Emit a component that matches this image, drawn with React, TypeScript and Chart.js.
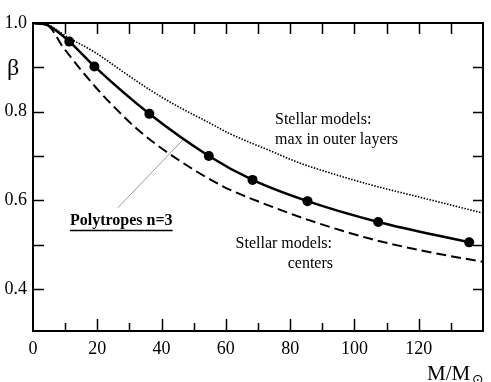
import React, { useEffect, useRef } from "react";
import { Chart, registerables } from "chart.js";

Chart.register(...registerables);

// Polytropes n=3 (solid line with dots)
const polyMass = [11.3, 19.1, 36.2, 54.7, 68.3, 85.4, 107.4, 135.7];
const polyBeta = [0.958, 0.902, 0.795, 0.700, 0.646, 0.598, 0.551, 0.505];
const polyStartMass = [0, 4.5];
const polyStartBeta = [1.0, 0.995];

// Stellar models: max in outer layers (dotted)
const outerMass = [0, 4.5, 11, 19, 28, 36.4, 45, 54, 61.3, 73.7, 83, 95, 105, 122.5, 140];
const outerBeta = [1.0, 0.996, 0.967, 0.935, 0.89, 0.849, 0.812, 0.778, 0.75, 0.712, 0.684, 0.656, 0.635, 0.603, 0.571];

// Stellar models: centers (dashed)
const centerMass = [0, 4.5, 9.4, 19.5, 26, 33.3, 43.6, 59.2, 72, 88, 105, 122, 140];
const centerBeta = [1.0, 0.995, 0.945, 0.855, 0.805, 0.755, 0.699, 0.631, 0.592, 0.55, 0.513, 0.485, 0.461];

// leader line of the "Polytropes n=3" label
const leaderMass = [26.4, 46.6];
const leaderBeta = [0.583, 0.736];

const xTickLabels = [0, 20, 40, 60, 80, 100, 120];
const yTickLabels = [0.4, 0.6, 0.8, 1.0];
const xMinorTicks = [10, 20, 30, 40, 50, 60, 70, 80, 90, 100, 110, 120, 130];
const yMinorTicks = [0.4, 0.5, 0.6, 0.7, 0.8, 0.9];

const pts = (xs: number[], ys: number[]) => xs.map((x, i) => ({ x, y: ys[i] }));

const SERIF = '"Liberation Serif", "Times New Roman", serif';

const framePlugin = {
  id: "frame",
  afterDraw(chart: any) {
    const { ctx, chartArea: a, scales } = chart;
    const xs = scales.x;
    const ys = scales.y;
    ctx.save();
    ctx.strokeStyle = "#000";
    ctx.lineWidth = 2;
    ctx.strokeRect(a.left, a.top, a.right - a.left, a.bottom - a.top);
    ctx.lineWidth = 1.5;
    ctx.beginPath();
    for (const v of yMinorTicks.concat([1.0])) {
      const py = Math.round(ys.getPixelForValue(v)) + 0.5;
      ctx.moveTo(a.left, py);
      ctx.lineTo(a.left + 11, py);
      if (v < 0.95) {
        ctx.moveTo(a.right, py);
        ctx.lineTo(a.right - 10, py);
      }
    }
    for (const m of xMinorTicks) {
      const px = Math.round(xs.getPixelForValue(m)) + 0.5;
      const len = m % 20 === 0 ? 12 : 8;
      ctx.moveTo(px, a.bottom);
      ctx.lineTo(px, a.bottom - len);
      ctx.moveTo(px, a.top);
      ctx.lineTo(px, a.top + 11);
    }
    ctx.stroke();

    ctx.fillStyle = "#000";
    ctx.font = `16px ${SERIF}`;
    ctx.textBaseline = "middle";
    ctx.textAlign = "left";
    ctx.fillText("Stellar models:", 275, 120);
    ctx.fillText("max in outer layers", 275, 140);
    ctx.textAlign = "right";
    ctx.fillText("Stellar models:", 332, 244);
    ctx.fillText("centers", 333, 264);

    ctx.textAlign = "left";
    ctx.font = `bold 16px ${SERIF}`;
    const label = "Polytropes n=3";
    ctx.fillText(label, 70, 221);
    const w = ctx.measureText(label).width;
    ctx.lineWidth = 1.5;
    ctx.beginPath();
    ctx.moveTo(70, 230.5);
    ctx.lineTo(70 + w, 230.5);
    ctx.stroke();

    ctx.font = `24px ${SERIF}`;
    ctx.textBaseline = "alphabetic";
    ctx.textAlign = "center";
    ctx.fillText("β", 13, 75);

    ctx.textAlign = "left";
    ctx.font = `21px ${SERIF}`;
    ctx.fillText("M/M", 427, 380);
    ctx.font = `14px "DejaVu Sans"`;
    ctx.textBaseline = "middle";
    ctx.fillText("⊙", 472, 380);
    ctx.restore();
  },
};

export default function App() {
  const ref = useRef<HTMLCanvasElement>(null);
  useEffect(() => {
    if (!ref.current) return;
    const chart = new Chart(ref.current, {
      type: "line",
      data: {
        datasets: [
          {
            data: pts(outerMass, outerBeta),
            borderColor: "#000",
            borderWidth: 1.6,
            borderDash: [1.5, 1.5],
            pointRadius: 0,
            cubicInterpolationMode: "monotone",
            fill: false,
          },
          {
            data: pts(centerMass, centerBeta),
            borderColor: "#000",
            borderWidth: 2,
            borderDash: [10, 5],
            pointRadius: 0,
            cubicInterpolationMode: "monotone",
            fill: false,
          },
          {
            data: pts(polyStartMass.concat(polyMass), polyStartBeta.concat(polyBeta)),
            borderColor: "#000",
            borderWidth: 2.5,
            pointRadius: 0,
            cubicInterpolationMode: "monotone",
            fill: false,
          },
          {
            data: pts(polyMass, polyBeta),
            showLine: false,
            pointRadius: 5,
            pointBackgroundColor: "#000",
            pointBorderColor: "#000",
            pointBorderWidth: 0,
          },
          {
            data: pts(leaderMass, leaderBeta),
            borderColor: "#9a9a9a",
            borderWidth: 1,
            pointRadius: 0,
            fill: false,
          },
        ],
      },
      options: {
        animation: false,
        responsive: false,
        events: [],
        layout: { padding: { top: 23, right: 8, left: 0, bottom: 0 } },
        plugins: { legend: { display: false }, tooltip: { enabled: false } },
        scales: {
          x: {
            type: "linear",
            min: 0,
            max: 140,
            grid: { display: false, drawTicks: false },
            border: { display: false },
            afterBuildTicks: (s: any) => {
              s.ticks = xTickLabels.map((v) => ({ value: v }));
            },
            afterFit: (s: any) => {
              s.height = 51;
            },
            ticks: {
              autoSkip: false,
              maxRotation: 0,
              padding: 7,
              color: "#000",
              font: { family: SERIF, size: 18 },
              callback: (v: any) => String(v),
            },
          },
          y: {
            type: "linear",
            min: 0.305,
            max: 1.0,
            grid: { display: false, drawTicks: false },
            border: { display: false },
            afterBuildTicks: (s: any) => {
              s.ticks = yTickLabels.map((v) => ({ value: v }));
            },
            afterFit: (s: any) => {
              s.width = 33;
            },
            ticks: {
              autoSkip: false,
              padding: 6,
              color: "#000",
              font: { family: SERIF, size: 18 },
              callback: (v: any) => Number(v).toFixed(1),
            },
          },
        },
      },
      plugins: [framePlugin],
    } as any);
    return () => chart.destroy();
  }, []);
  return (
    <div style={{ position: "absolute", left: 0, top: 0, width: 491, height: 382 }}>
      <canvas ref={ref} width={491} height={382} style={{ width: 491, height: 382, display: "block" }} />
    </div>
  );
}
